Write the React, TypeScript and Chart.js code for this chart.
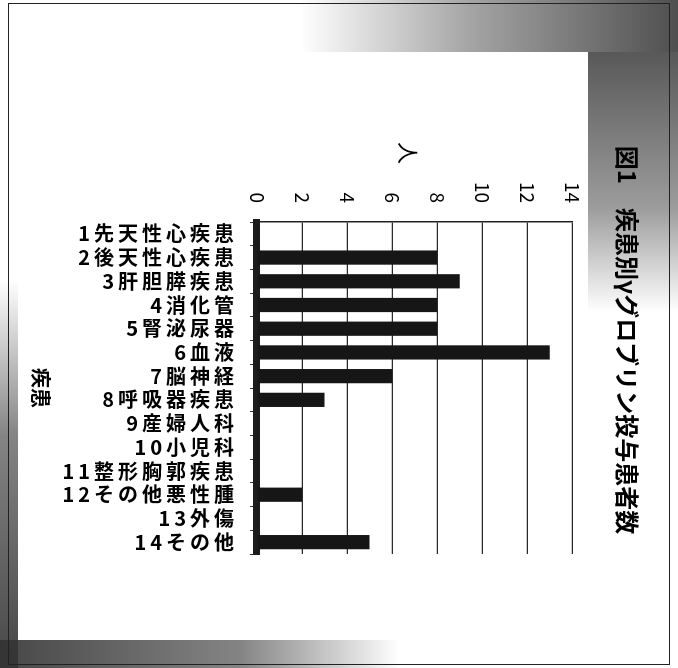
import React, { useEffect, useRef } from 'react';
import { Chart, registerables } from 'chart.js';

Chart.register(...registerables);

// ---- data ----
const categories = [
  '1先天性心疾患',
  '2後天性心疾患',
  '3肝胆膵疾患',
  '4消化管',
  '5腎泌尿器',
  '6血液',
  '7脳神経',
  '8呼吸器疾患',
  '9産婦人科',
  '10小児科',
  '11整形胸郭疾患',
  '12その他悪性腫',
  '13外傷',
  '14その他',
];
const patients = [0, 8, 9, 8, 8, 13, 6, 3, 0, 0, 0, 2, 0, 5];
const valueTicks = [0, 2, 4, 6, 8, 10, 12, 14];
const chartTitle = '図1　疾患別γグロブリン投与患者数';
const valueAxisTitle = '人';
const categoryAxisTitle = '疾患';

const FONT = "'Noto Sans CJK JP', 'Noto Sans', sans-serif";

const scanPlugin = {
  id: 'scanLook',
  beforeDraw(chart: any) {
    const sx: any = chart.scales.x;
    if (sx && !sx.__spaced) {
      const orig = sx.drawLabels.bind(sx);
      sx.drawLabels = (area: any) => {
        const c: any = chart.ctx;
        c.save();
        c.letterSpacing = '4px';
        orig(area);
        c.restore();
      };
      sx.__spaced = true;
    }
  },
  afterDraw(chart: any) {
    const { ctx, chartArea } = chart;
    ctx.save();
    ctx.font = `normal 22px ${FONT}`;
    ctx.fillStyle = '#000';
    ctx.textAlign = 'center';
    ctx.textBaseline = 'middle';
    ctx.fillText(valueAxisTitle, chartArea.left - 69, (chartArea.top + chartArea.bottom) / 2 + 6);
    ctx.restore();
  },
};

export default function App() {
  const ref = useRef<HTMLCanvasElement | null>(null);

  useEffect(() => {
    if (!ref.current) return;
    const chart = new Chart(ref.current, {
      type: 'bar',
      data: {
        labels: categories,
        datasets: [
          {
            data: patients,
            backgroundColor: '#161616',
            borderWidth: 0,
            barPercentage: 0.6,
            categoryPercentage: 1,
          },
        ],
      },
      options: {
        responsive: false,
        animation: false,
        devicePixelRatio: 1,
        layout: { padding: { left: 126, right: 114, top: 0, bottom: 0 } },
        plugins: {
          legend: { display: false },
          tooltip: { enabled: false },
          title: {
            display: true,
            text: chartTitle,
            color: '#000',
            font: { family: FONT, size: 24, weight: 'bold' },
            padding: { top: 36, bottom: 41 },
          },
        },
        scales: {
          x: {
            afterFit: (s: any) => {
              s.height = 257;
            },
            grid: {
              display: true,
              drawOnChartArea: false,
              drawTicks: true,
              tickLength: 7,
              color: '#333',
              lineWidth: 1,
            },
            border: { display: true, color: '#1c1c1c', width: 7 },
            ticks: {
              autoSkip: false,
              minRotation: 90,
              maxRotation: 90,
              padding: 12,
              color: '#000',
              font: { family: FONT, size: 20, weight: 'bold' },
            },
            title: {
              display: true,
              text: categoryAxisTitle,
              color: '#000',
              font: { family: FONT, size: 20, weight: 'bold' },
              padding: { top: 0, bottom: 29 },
            },
          },
          y: {
            min: 0,
            max: 14,
            afterFit: (s: any) => {
              s.width = 96;
            },
            afterBuildTicks: (s: any) => {
              s.ticks = valueTicks.map((v) => ({ value: v }));
            },
            grid: {
              display: true,
              drawTicks: false,
              color: '#2a2a2a',
              lineWidth: 1.2,
            },
            border: { display: true, color: '#222', width: 1.5 },
            ticks: {
              padding: 19,
              color: '#000',
              font: { family: FONT, size: 19, weight: 'normal' },
            },
          },
        },
      },
      plugins: [scanPlugin],
    });
    return () => chart.destroy();
  }, []);

  return (
    <div
      style={{
        position: 'fixed',
        left: 0,
        top: 0,
        width: 678,
        height: 668,
        background: '#fff',
        overflow: 'hidden',
      }}
    >
      {/* scan artefacts */}
      <div
        style={{
          position: 'absolute',
          left: 300,
          top: 0,
          width: 378,
          height: 52,
          background:
            'linear-gradient(to right, rgba(90,90,90,0) 0%, rgba(90,90,90,0.55) 45%, rgba(60,60,60,0.9) 100%)',
        }}
      />
      <div
        style={{
          position: 'absolute',
          left: 588,
          top: 52,
          width: 90,
          height: 260,
          background:
            'linear-gradient(to bottom, rgba(70,70,70,0.9) 0%, rgba(90,90,90,0.6) 60%, rgba(120,120,120,0) 100%)',
        }}
      />
      <div
        style={{
          position: 'absolute',
          left: 0,
          top: 280,
          width: 18,
          height: 388,
          background:
            'linear-gradient(to bottom, rgba(90,90,90,0) 0%, rgba(80,80,80,0.7) 40%, rgba(50,50,50,0.9) 100%)',
        }}
      />
      <div
        style={{
          position: 'absolute',
          left: 0,
          top: 640,
          width: 400,
          height: 28,
          background:
            'linear-gradient(to right, rgba(50,50,50,0.9) 0%, rgba(80,80,80,0.7) 60%, rgba(120,120,120,0) 100%)',
        }}
      />
      <div
        style={{
          position: 'absolute',
          left: 8,
          top: 3,
          width: 662,
          height: 662,
          border: '1.5px solid #222',
          boxSizing: 'border-box',
        }}
      />
      <div
        style={{
          position: 'absolute',
          left: 0,
          top: 0,
          width: 668,
          height: 678,
          transformOrigin: '0 0',
          transform: 'translate(678px, 0px) rotate(90deg)',
        }}
      >
        <canvas ref={ref} width={668} height={678} style={{ width: 668, height: 678, display: 'block' }} />
      </div>
    </div>
  );
}
